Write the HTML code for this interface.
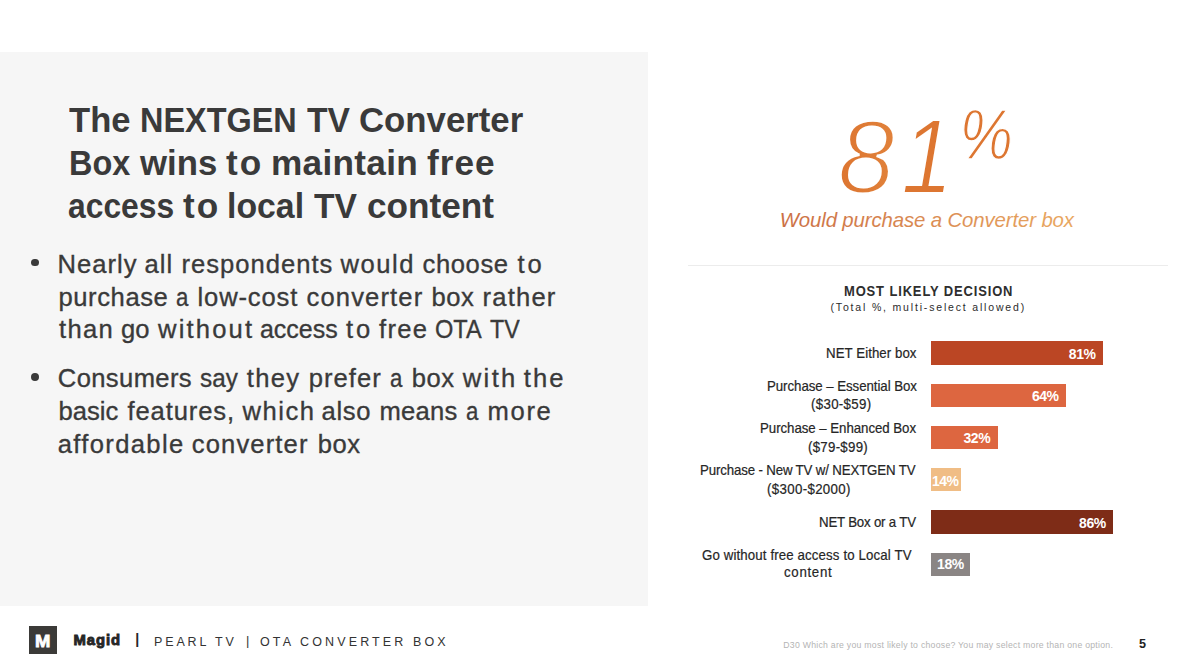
<!DOCTYPE html>
<html lang="en"><head><meta charset="utf-8"><title>The NEXTGEN TV Converter Box wins</title>
<style>
*{margin:0;padding:0;box-sizing:border-box}
html,body{width:1200px;height:669px;overflow:hidden;background:#fff}
body{position:relative;font-family:"Liberation Sans", sans-serif;}
.x{position:absolute;display:block;white-space:pre;line-height:1;}
h1,ul,li{font:inherit;list-style:none}
.panel{position:absolute;left:0;top:52px;width:648px;height:554px;background:#f6f6f6;}
.dot{position:absolute;width:7.8px;height:7.8px;border-radius:50%;background:#3a3a3a;}
.rule{position:absolute;left:688px;top:265px;width:480px;height:1px;background:#ececec;}
.bar{position:absolute;left:930.9px;height:23.3px;}
.logo{position:absolute;left:29.3px;top:626.4px;width:27.7px;height:28px;background:#3b3a38;}
svg.hero{position:absolute;left:0;top:0;width:1200px;height:669px;overflow:visible;}
.t{font-size:35.2px;font-weight:700;font-style:normal;color:#3a3a3a;}
.b{font-size:25.6px;font-weight:400;font-style:normal;color:#3a3a3a;-webkit-text-stroke:0.35px #3a3a3a;}
.h1{font-size:14.4px;font-weight:700;font-style:normal;color:#2e2e2e;}
.h2{font-size:10.5px;font-weight:400;font-style:normal;color:#2b2b2b;}
.c{font-size:13.9px;font-weight:400;font-style:normal;color:#262626;-webkit-text-stroke:0.2px #262626;}
.v{font-size:14px;font-weight:700;font-style:normal;color:#fff;}
.lm{font-size:16.8px;font-weight:700;font-style:normal;color:#fff;-webkit-text-stroke:0.8px #fff;}
.mg{font-size:14.8px;font-weight:700;font-style:normal;color:#262626;-webkit-text-stroke:0.9px #262626;}
.sep{font-size:14.2px;font-weight:700;font-style:normal;color:#262626;}
.f{font-size:12.5px;font-weight:400;font-style:normal;color:#333;}
.f2{font-size:12.8px;font-weight:400;font-style:normal;color:#333;}
.fn{font-size:8.7px;font-weight:400;font-style:normal;color:#b4b4b4;}
.pg{font-size:12.6px;font-weight:700;font-style:normal;color:#222;}
</style></head>
<body>
<div class="panel"></div>
<div class="dot" style="left:31.2px;top:258.6px"></div>
<div class="dot" style="left:31.2px;top:373.4px"></div>
<div class="rule"></div>
<div class="bar" style="top:341.3px;width:172.1px;background:#bb4624"></div>
<div class="bar" style="top:383.6px;width:135.1px;background:#dd6640"></div>
<div class="bar" style="top:425.6px;width:67.4px;background:#dd6640"></div>
<div class="bar" style="top:468.2px;width:29.9px;background:#f0bd85"></div>
<div class="bar" style="top:510.4px;width:182.6px;background:#7e2c17"></div>
<div class="bar" style="top:552.7px;width:38.8px;background:#8a8584"></div>
<div class="logo"></div>
<svg class="hero" viewBox="0 0 1200 669">
<defs>
<linearGradient id="g1" gradientUnits="userSpaceOnUse" x1="843" y1="0" x2="1008" y2="0"><stop offset="0" stop-color="#dd7631"/><stop offset="1" stop-color="#ea9c50"/></linearGradient>
<linearGradient id="g2" gradientUnits="userSpaceOnUse" x1="780" y1="0" x2="1074" y2="0"><stop offset="0" stop-color="#cb6f45"/><stop offset="1" stop-color="#e9a862"/></linearGradient>
</defs>
<g font-family="Liberation Sans, sans-serif" font-style="italic">
<text id="hero8" x="837.5" y="193" font-size="103" fill="url(#g1)" stroke="#fff" stroke-width="3">8</text>
<text id="hero1" transform="translate(901.2,192.9) scale(0.885,1)" font-size="105" fill="url(#g1)" stroke="#fff" stroke-width="2">1</text>
<text id="heropct" transform="translate(959.5,159.3) scale(0.845,1)" font-size="71" fill="url(#g1)" stroke="#fff" stroke-width="1.3">%</text>
<text id="herosub" x="779.7" y="226.9" font-size="20.4" fill="url(#g2)" textLength="294.3" lengthAdjust="spacing">Would purchase a Converter box</text>
</g>
</svg>
<h1><span class="x t" style="left:69.00px;top:102.00px;letter-spacing:0.000px;transform:scaleX(0.9836);transform-origin:0 0">The</span> <span class="x t" style="left:140.00px;top:102.00px;letter-spacing:0.000px;transform:scaleX(0.9217);transform-origin:0 0">NEXTGEN</span> <span class="x t" style="left:307.00px;top:102.00px;letter-spacing:0.000px;transform:scaleX(0.9556);transform-origin:0 0">TV</span> <span class="x t" style="left:359.00px;top:102.00px;letter-spacing:0.000px;transform:scaleX(0.9879);transform-origin:0 0">Converter</span> <span class="x t" style="left:69.00px;top:145.00px;letter-spacing:0.000px;transform:scaleX(0.9219);transform-origin:0 0">Box</span> <span class="x t" style="left:140.00px;top:145.00px;letter-spacing:0.000px;transform:scaleX(0.9870);transform-origin:0 0">wins</span> <span class="x t" style="left:226.00px;top:145.00px;letter-spacing:2.000px">to</span> <span class="x t" style="left:271.00px;top:145.00px;letter-spacing:0.286px">maintain</span> <span class="x t" style="left:427.00px;top:145.00px;letter-spacing:1.000px">free</span> <span class="x t" style="left:68.00px;top:188.00px;letter-spacing:0.000px;transform:scaleX(0.9043);transform-origin:0 0">access</span> <span class="x t" style="left:183.00px;top:188.00px;letter-spacing:2.000px">to</span> <span class="x t" style="left:227.00px;top:188.00px;letter-spacing:0.000px;transform:scaleX(0.9605);transform-origin:0 0">local</span> <span class="x t" style="left:314.00px;top:188.00px;letter-spacing:0.000px;transform:scaleX(0.9556);transform-origin:0 0">TV</span> <span class="x t" style="left:367.00px;top:188.00px;letter-spacing:0.000px">content</span></h1>
<ul><li><span class="x b" style="left:57.50px;top:252.00px;letter-spacing:1.000px">Nearly</span> <span class="x b" style="left:144.50px;top:252.00px;letter-spacing:1.000px">all</span> <span class="x b" style="left:181.50px;top:252.00px;letter-spacing:1.000px">respondents</span> <span class="x b" style="left:340.50px;top:252.00px;letter-spacing:1.500px">would</span> <span class="x b" style="left:422.50px;top:252.00px;letter-spacing:0.600px">choose</span> <span class="x b" style="left:517.50px;top:252.00px;letter-spacing:3.000px">to</span> <span class="x b" style="left:58.50px;top:285.00px;letter-spacing:0.571px">purchase</span> <span class="x b" style="left:175.50px;top:285.00px;letter-spacing:0.000px;transform:scaleX(0.8672);transform-origin:0 0">a</span> <span class="x b" style="left:197.50px;top:285.00px;letter-spacing:0.857px">low-cost</span> <span class="x b" style="left:306.50px;top:285.00px;letter-spacing:1.125px">converter</span> <span class="x b" style="left:431.50px;top:285.00px;letter-spacing:0.500px">box</span> <span class="x b" style="left:482.50px;top:285.00px;letter-spacing:1.200px">rather</span> <span class="x b" style="left:59.00px;top:317.00px;letter-spacing:1.333px">than</span> <span class="x b" style="left:121.00px;top:317.00px;letter-spacing:0.000px">go</span> <span class="x b" style="left:158.00px;top:317.00px;letter-spacing:2.167px">without</span> <span class="x b" style="left:260.00px;top:317.00px;letter-spacing:0.000px;transform:scaleX(0.9744);transform-origin:0 0">access</span> <span class="x b" style="left:346.00px;top:317.00px;letter-spacing:3.000px">to</span> <span class="x b" style="left:379.00px;top:317.00px;letter-spacing:1.333px">free</span> <span class="x b" style="left:435.00px;top:317.00px;letter-spacing:0.000px;transform:scaleX(0.9200);transform-origin:0 0">OTA</span> <span class="x b" style="left:490.00px;top:317.00px;letter-spacing:0.000px;transform:scaleX(0.9091);transform-origin:0 0">TV</span></li><li><span class="x b" style="left:57.80px;top:366.00px;letter-spacing:0.375px">Consumers</span> <span class="x b" style="left:199.80px;top:366.00px;letter-spacing:0.000px;transform:scaleX(0.9487);transform-origin:0 0">say</span> <span class="x b" style="left:246.80px;top:366.00px;letter-spacing:1.333px">they</span> <span class="x b" style="left:308.80px;top:366.00px;letter-spacing:1.000px">prefer</span> <span class="x b" style="left:389.80px;top:366.00px;letter-spacing:0.000px;transform:scaleX(0.8672);transform-origin:0 0">a</span> <span class="x b" style="left:411.80px;top:366.00px;letter-spacing:0.500px">box</span> <span class="x b" style="left:462.80px;top:366.00px;letter-spacing:2.333px">with</span> <span class="x b" style="left:523.80px;top:366.00px;letter-spacing:2.000px">the</span> <span class="x b" style="left:58.50px;top:399.00px;letter-spacing:0.000px">basic</span> <span class="x b" style="left:127.50px;top:399.00px;letter-spacing:0.875px">features,</span> <span class="x b" style="left:242.50px;top:399.00px;letter-spacing:1.500px">which</span> <span class="x b" style="left:321.50px;top:399.00px;letter-spacing:0.667px">also</span> <span class="x b" style="left:379.50px;top:399.00px;letter-spacing:0.250px">means</span> <span class="x b" style="left:465.50px;top:399.00px;letter-spacing:0.000px;transform:scaleX(0.8672);transform-origin:0 0">a</span> <span class="x b" style="left:487.50px;top:399.00px;letter-spacing:1.667px">more</span> <span class="x b" style="left:57.80px;top:432.00px;letter-spacing:1.333px">affordable</span> <span class="x b" style="left:191.80px;top:432.00px;letter-spacing:1.125px">converter</span> <span class="x b" style="left:317.80px;top:432.00px;letter-spacing:0.500px">box</span></li></ul>
<section><div class="x h1" style="left:843.70px;top:284.00px;letter-spacing:0.971px;transform:scaleX(0.9000);transform-origin:0 0">MOST LIKELY DECISION</div><div class="x h2" style="left:830.50px;top:302.00px;letter-spacing:1.827px">(Total %, multi-select allowed)</div></section>
<section><div class="x c" style="left:826.00px;top:347.00px;letter-spacing:0.064px;transform:scaleX(0.9550);transform-origin:0 0">NET Either box</div><div class="x c" style="left:766.60px;top:380.00px;letter-spacing:-0.055px;transform:scaleX(0.9550);transform-origin:0 0">Purchase – Essential Box</div><div class="x c" style="left:811.40px;top:398.00px;letter-spacing:0.340px;transform:scaleX(0.9550);transform-origin:0 0">($30-$59)</div><div class="x c" style="left:760.40px;top:422.00px;letter-spacing:-0.048px;transform:scaleX(0.9550);transform-origin:0 0">Purchase – Enhanced Box</div><div class="x c" style="left:808.40px;top:441.00px;letter-spacing:0.288px;transform:scaleX(0.9550);transform-origin:0 0">($79-$99)</div><div class="x c" style="left:700.00px;top:464.00px;letter-spacing:-0.154px;transform:scaleX(0.9550);transform-origin:0 0">Purchase - New TV w/ NEXTGEN TV</div><div class="x c" style="left:766.60px;top:483.00px;letter-spacing:0.362px;transform:scaleX(0.9550);transform-origin:0 0">($300-$2000)</div><div class="x c" style="left:819.00px;top:516.00px;letter-spacing:-0.209px;transform:scaleX(0.9550);transform-origin:0 0">NET Box or a TV</div><div class="x c" style="left:702.40px;top:549.00px;letter-spacing:0.127px;transform:scaleX(0.9550);transform-origin:0 0">Go without free access to Local TV</div><div class="x c" style="left:784.40px;top:566.00px;letter-spacing:0.733px;transform:scaleX(0.9550);transform-origin:0 0">content</div><div class="x v" style="left:1068.80px;top:347.00px;letter-spacing:-0.450px">81%</div><div class="x v" style="left:1031.90px;top:389.00px;letter-spacing:-0.450px">64%</div><div class="x v" style="left:963.50px;top:431.00px;letter-spacing:-0.450px">32%</div><div class="x v" style="left:931.90px;top:474.00px;letter-spacing:-0.450px">14%</div><div class="x v" style="left:1079.10px;top:516.00px;letter-spacing:-0.450px">86%</div><div class="x v" style="left:937.10px;top:557.00px;letter-spacing:-0.450px">18%</div></section>
<footer><span class="x lm" style="left:35.10px;top:634.00px;letter-spacing:0.000px;transform:scaleX(1.1000);transform-origin:0 0">M</span><span class="x mg" style="left:73.60px;top:633.00px;letter-spacing:0.925px">Magid</span><span class="x sep" style="left:135.20px;top:632.00px;letter-spacing:0.000px">|</span><span class="x f" style="left:154.00px;top:636.00px;letter-spacing:2.857px">PEARL TV</span><span class="x f2" style="left:245.90px;top:635.00px;letter-spacing:0.000px">|</span><span class="x f" style="left:260.00px;top:636.00px;letter-spacing:3.125px">OTA CONVERTER BOX</span><span class="x fn" style="left:783.30px;top:641.00px;letter-spacing:0.263px">D30 Which are you most likely to choose? You may select more than one option.</span><span class="x pg" style="left:1139.00px;top:638.00px;letter-spacing:0.000px">5</span></footer>
</body></html>
